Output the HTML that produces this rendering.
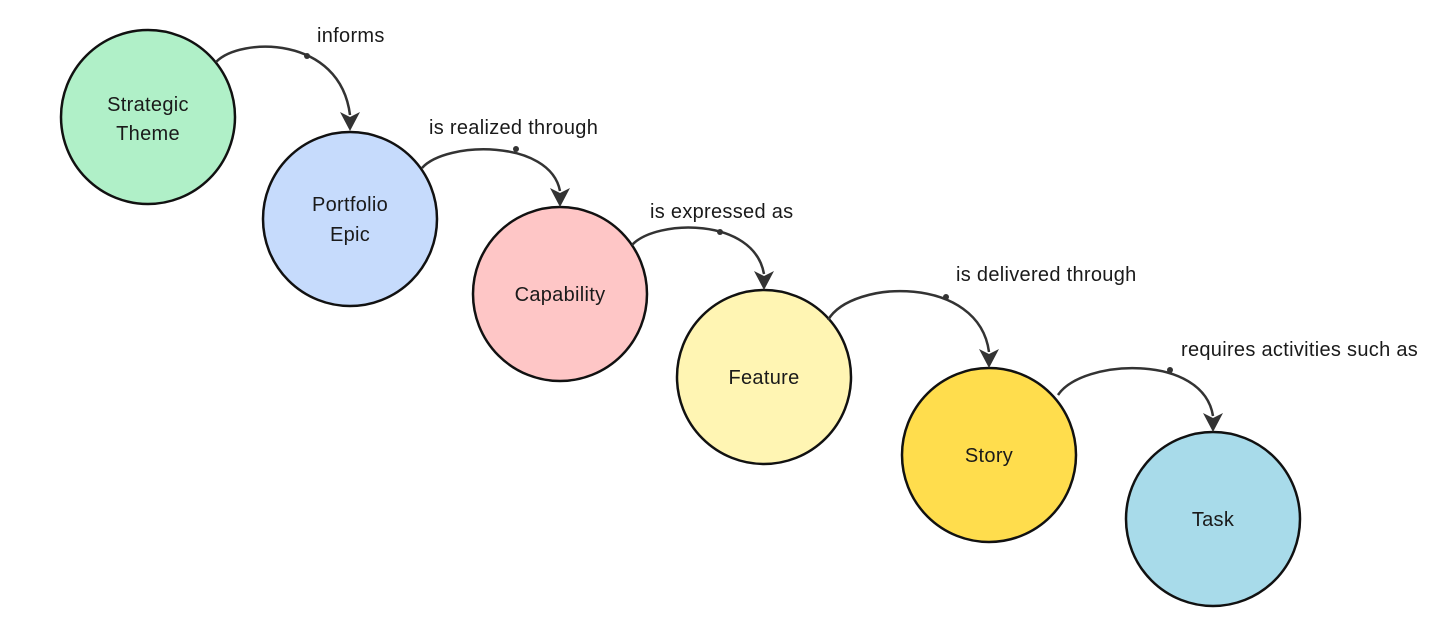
<!DOCTYPE html>
<html><head><style>
body{margin:0;background:#fff;}
svg{display:block;}
text{font-family:"Liberation Sans",sans-serif;fill:#1a1a1a;letter-spacing:0.3px;}
</style></head><body>
<svg width="1456" height="631" viewBox="0 0 1456 631">
<defs>
<g id="ah"><polygon points="-10,-19 0,-14 10,-19 0,0" fill="#333"/></g>
</defs>
<g stroke="#111" stroke-width="2.5">
<circle cx="148" cy="117" r="87" fill="#b0f0c8"/>
<circle cx="350" cy="219" r="87" fill="#c6dbfc"/>
<circle cx="560" cy="294" r="87" fill="#fec6c6"/>
<circle cx="764" cy="377" r="87" fill="#fff5b3"/>
<circle cx="989" cy="455" r="87" fill="#ffdd4d"/>
<circle cx="1213" cy="519" r="87" fill="#a8dbea"/>
</g>
<g font-size="20" text-anchor="middle">
<text x="148" y="111">Strategic</text><text x="148" y="140">Theme</text>
<text x="350" y="211">Portfolio</text><text x="350" y="241">Epic</text>
<text x="560" y="301">Capability</text>
<text x="764" y="384">Feature</text>
<text x="989" y="462">Story</text>
<text x="1213" y="526">Task</text>
</g>
<g fill="none" stroke="#333" stroke-width="2.5">
<path d="M216,62 C240,37 340,35 350,115"/>
<path d="M422,168 C446,141 550,139 560,191"/>
<path d="M632,245 C656,219 754,217 764,274"/>
<path d="M828,320 C852,279 979,275 989,352"/>
<path d="M1058,395 C1082,359 1203,353 1213,416"/>
</g>
<g fill="#333">
<circle cx="307" cy="56" r="3"/><circle cx="516" cy="149" r="3"/>
<circle cx="720" cy="232" r="3"/><circle cx="946" cy="297" r="3"/>
<circle cx="1170" cy="370" r="3"/>
<use href="#ah" x="350" y="131"/><use href="#ah" x="560" y="207"/>
<use href="#ah" x="764" y="290"/><use href="#ah" x="989" y="368"/>
<use href="#ah" x="1213" y="432"/>
</g>
<g font-size="20">
<text x="317" y="42">informs</text>
<text x="429" y="134">is realized through</text>
<text x="650" y="218">is expressed as</text>
<text x="956" y="281">is delivered through</text>
<text x="1181" y="356">requires activities such as</text>
</g>
</svg>
</body></html>
